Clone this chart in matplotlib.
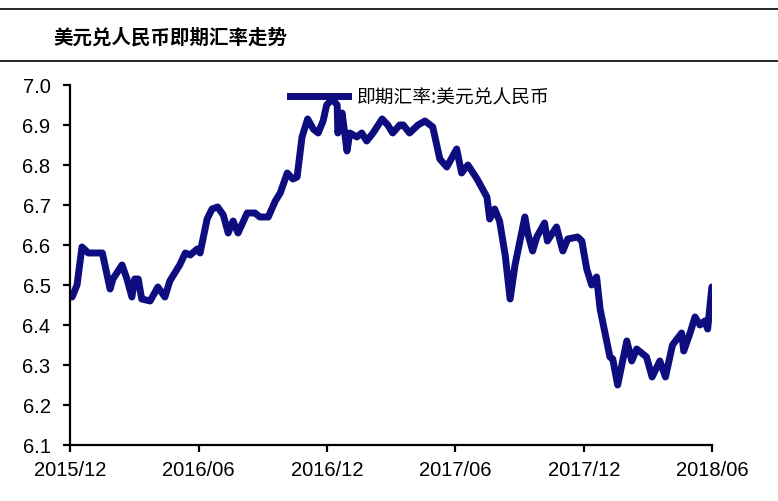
import pandas as pd
import matplotlib
matplotlib.use("Agg")
import matplotlib.pyplot as plt
import matplotlib.dates as mdates
from matplotlib.lines import Line2D

plt.rcParams['font.family'] = ['Liberation Sans', 'Noto Sans CJK SC', 'DejaVu Sans']

# 美元兑人民币即期汇率
dates = [
    "2015-12-01", "2015-12-04", "2015-12-11", "2015-12-18", "2015-12-27",
    "2016-01-16", "2016-01-27", "2016-01-31", "2016-02-13", "2016-02-20",
    "2016-02-27", "2016-03-02", "2016-03-07", "2016-03-12", "2016-03-24",
    "2016-04-04", "2016-04-14", "2016-04-21", "2016-05-05", "2016-05-13",
    "2016-05-20", "2016-05-30", "2016-06-03", "2016-06-13", "2016-06-20",
    "2016-06-28", "2016-07-06", "2016-07-13", "2016-07-20", "2016-07-27",
    "2016-08-09", "2016-08-20", "2016-08-27", "2016-09-08", "2016-09-18",
    "2016-09-25", "2016-10-05", "2016-10-13", "2016-10-19", "2016-10-26",
    "2016-11-03", "2016-11-11", "2016-11-18", "2016-11-25", "2016-11-30",
    "2016-12-08", "2016-12-15", "2016-12-16", "2016-12-22", "2016-12-29",
    "2017-01-02", "2017-01-12", "2017-01-19", "2017-01-26", "2017-02-04",
    "2017-02-17", "2017-02-25", "2017-03-04", "2017-03-14", "2017-03-19",
    "2017-03-28", "2017-04-09", "2017-04-19", "2017-04-30", "2017-05-10",
    "2017-05-20", "2017-06-03", "2017-06-10", "2017-06-19", "2017-07-02",
    "2017-07-16", "2017-07-20", "2017-07-27", "2017-08-03", "2017-08-11",
    "2017-08-18", "2017-08-25", "2017-09-08", "2017-09-12", "2017-09-19",
    "2017-09-25", "2017-10-06", "2017-10-10", "2017-10-23", "2017-11-01",
    "2017-11-08", "2017-11-22", "2017-11-28", "2017-12-05", "2017-12-12",
    "2017-12-19", "2017-12-24", "2018-01-07", "2018-01-11", "2018-01-18",
    "2018-01-31", "2018-02-07", "2018-02-14", "2018-02-28", "2018-03-08",
    "2018-03-19", "2018-03-27", "2018-04-06", "2018-04-19", "2018-04-22",
    "2018-05-01", "2018-05-08", "2018-05-15", "2018-05-22", "2018-05-26",
    "2018-06-01",
]
rates = [
    6.475, 6.47, 6.50, 6.595, 6.58,
    6.58, 6.49, 6.515, 6.55, 6.515,
    6.47, 6.515, 6.515, 6.465, 6.46,
    6.495, 6.47, 6.51, 6.55, 6.58,
    6.575, 6.59, 6.58, 6.665, 6.69,
    6.695, 6.675, 6.63, 6.66, 6.63,
    6.68, 6.68, 6.67, 6.67, 6.71,
    6.73, 6.78, 6.765, 6.77, 6.87,
    6.915, 6.89, 6.88, 6.91, 6.95,
    6.965, 6.95, 6.88, 6.93, 6.835,
    6.88, 6.87, 6.88, 6.86, 6.88,
    6.915, 6.90, 6.88, 6.90, 6.90,
    6.88, 6.90, 6.91, 6.895, 6.815,
    6.795, 6.84, 6.78, 6.80, 6.765,
    6.72, 6.665, 6.69, 6.66, 6.575,
    6.465, 6.55, 6.67, 6.63, 6.585,
    6.62, 6.655, 6.61, 6.645, 6.585,
    6.615, 6.62, 6.61, 6.54, 6.50,
    6.52, 6.44, 6.32, 6.315, 6.25,
    6.36, 6.31, 6.34, 6.32, 6.27,
    6.31, 6.27, 6.35, 6.38, 6.335,
    6.38, 6.42, 6.40, 6.41, 6.39,
    6.495,
]
x_ticks = ["2015-12-01", "2016-06-01", "2016-12-01", "2017-06-01", "2017-12-01", "2018-06-01"]
y_ticks = [6.1, 6.2, 6.3, 6.4, 6.5, 6.6, 6.7, 6.8, 6.9, 7.0]

title = "美元兑人民币即期汇率走势"
series_name = "即期汇率:美元兑人民币"
navy = "#0d0d80"

df = pd.DataFrame({"date": pd.to_datetime(dates), "rate": rates})

fig = plt.figure(figsize=(7.78, 5.02), dpi=100)
ax = fig.add_axes([0.090, 0.1116, 0.825, 0.7171])

ax.plot(df["date"], df["rate"], color=navy, linewidth=5,
        solid_joinstyle="round", solid_capstyle="round")

ax.set_ylim(6.1, 7.0)
ax.set_yticks(y_ticks)
ax.set_yticklabels([f"{v:.1f}" for v in y_ticks])
xt = pd.to_datetime(x_ticks)
ax.set_xlim(xt[0], xt[-1])
ax.set_xticks(xt)
ax.xaxis.set_major_formatter(mdates.DateFormatter("%Y/%m"))

for side in ["top", "right"]:
    ax.spines[side].set_visible(False)
for side in ["left", "bottom"]:
    ax.spines[side].set_linewidth(1.6)
ax.tick_params(axis="both", direction="out", length=5, width=1.6,
               labelsize=14.5, colors="black")
ax.tick_params(axis="x", pad=6)
ax.tick_params(axis="y", pad=9)

# legend
handle = Line2D([], [], color=navy, linewidth=5)
ax.legend([handle], [series_name], loc="center left",
          bbox_to_anchor=(0.343, 0.967), frameon=False, handlelength=3.1,
          handletextpad=0.45, borderpad=0, borderaxespad=0,
          prop={"family": ["Noto Sans CJK SC"], "size": 13.5})

# header
fig.add_artist(Line2D([0, 1], [1 - 10 / 502, 1 - 10 / 502], color="black",
                      linewidth=1.2, transform=fig.transFigure))
fig.add_artist(Line2D([0, 1], [1 - 62 / 502, 1 - 62 / 502], color="black",
                      linewidth=1.2, transform=fig.transFigure))
fig.text(53 / 778, 1 - 38 / 502, title, ha="left", va="center",
         fontsize=14, fontweight="bold", family=["Noto Sans CJK SC"])

fig.savefig("out.png", dpi=100)
plt.close(fig)
